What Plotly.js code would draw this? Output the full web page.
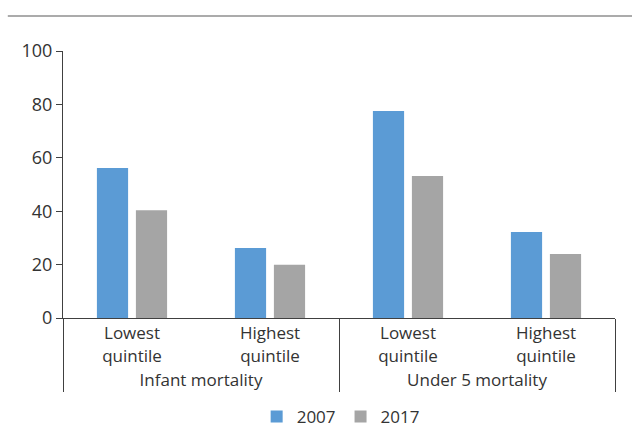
<!DOCTYPE html>
<html>
<head>
<meta charset="utf-8">
<script src="https://cdn.plot.ly/plotly-3.0.1.min.js"></script>
<style>html,body{margin:0;padding:0;background:#fff;}#chart{width:632px;height:432px;}</style>
</head>
<body>
<div id="chart"></div>
<script>
var groups = ["Infant mortality", "Infant mortality", "Under 5 mortality", "Under 5 mortality"];
var quintiles = ["Lowest<br>quintile", "Highest<br>quintile", "Lowest<br>quintile", "Highest<br>quintile"];
var values2007 = [56.2, 26.2, 77.5, 32.2];
var values2017 = [40.4, 19.9, 53.2, 24.0];
var seriesNames = ["2007", "2017"];
var yTicks = [0, 20, 40, 60, 80, 100];

var font = {family: "Open Sans, sans-serif", size: 17, color: "#333333"};
var traces = [
  {type: "bar", name: seriesNames[0], x: [groups, quintiles], y: values2007,
   marker: {color: "#5B9BD5"}},
  {type: "bar", name: seriesNames[1], x: [groups, quintiles], y: values2017,
   marker: {color: "#A5A5A5"}}
];
var layout = {
  width: 632, height: 432,
  margin: {l: 63, r: 17, t: 51, b: 114},
  paper_bgcolor: "#fff", plot_bgcolor: "#fff",
  font: font,
  barmode: "group", bargap: 0.435, bargroupgap: 0.2,
  showlegend: true,
  legend: {orientation: "h", x: 0.503, xanchor: "center", xref: "paper",
           yref: "container", y: 0.035, yanchor: "middle",
           font: font, itemwidth: 30, traceorder: "normal"},
  xaxis: {type: "multicategory", automargin: false, showline: true, linecolor: "#404040", linewidth: 1,
          ticks: "", showgrid: false, zeroline: false, tickfont: font,
          showdividers: true, dividercolor: "#404040", dividerwidth: 1},
  yaxis: {range: [0, 100], automargin: false, tickvals: yTicks, showline: true, linecolor: "#404040",
          linewidth: 1, ticks: "outside", ticklen: 6, tickcolor: "#404040",
          showgrid: false, zeroline: false, tickfont: {family: font.family, size: 18, color: "#333333"}},
  shapes: [
    {type: "line", xref: "paper", yref: "paper", x0: -0.1, x1: 1.05, y0: 1.131, y1: 1.131,
     line: {color: "#ABABAB", width: 2}}
  ]
};
Plotly.newPlot("chart", traces, layout, {displayModeBar: false, staticPlot: true});
</script>
</body>
</html>
